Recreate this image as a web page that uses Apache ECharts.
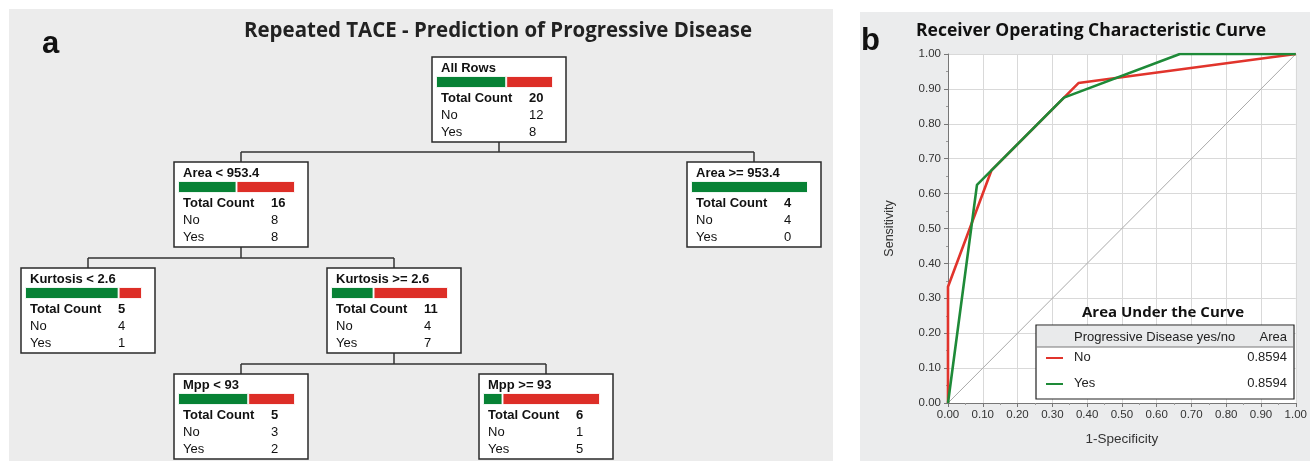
<!DOCTYPE html>
<html>
<head>
<meta charset="utf-8">
<script src="https://cdn.jsdelivr.net/npm/echarts@6/dist/echarts.min.js"></script>
<style>
  html, body { margin: 0; padding: 0; background: #ffffff; }
  #chart { width: 1310px; height: 461px; }
</style>
</head>
<body>
<div id="chart"></div>
<script>
// ---- Decision tree: split labels, class counts and parent links ----
const nodeLabels = ['All Rows', 'Area < 953.4', 'Area >= 953.4', 'Kurtosis < 2.6', 'Kurtosis >= 2.6', 'Mpp < 93', 'Mpp >= 93'];
const nodeNo = [12, 8, 4, 4, 4, 3, 1];
const nodeYes = [8, 8, 0, 1, 7, 2, 5];
const nodeParent = [-1, 0, 0, 1, 1, 4, 4];
const classNames = ['No', 'Yes'];

// ---- ROC curves (false positive rate vs. true positive rate) ----
const rocNoFpr = [0, 0, 0.125, 0.375, 1];
const rocNoTpr = [0, 0.3333, 0.6667, 0.9167, 1];
const rocYesFpr = [0, 0.0833, 0.3333, 0.6667, 1];
const rocYesTpr = [0, 0.625, 0.875, 1, 1];
const chanceFpr = [0, 1];
const chanceTpr = [0, 1];
const aucGroups = ['No', 'Yes'];
const aucValues = [0.8594, 0.8594];

// ---- Layout ----
const GREEN = '#078235';
const RED = '#dd2e27';
const ROC_RED = '#e1342c';
const ROC_GREEN = '#1e8a38';
const BOX_W = 134, BOX_H = 85;
const boxPos = [[432, 57], [174, 162], [687, 162], [21, 268], [327, 268], [174, 374], [479, 374]];
const SANS = '"Liberation Sans", Arial, sans-serif';
const TITLE_FONT = '"Open Sans", "Liberation Sans", sans-serif';

// horizontal squeeze that makes a heading span a given width (condensed look)
function squeezeTo(text, font, width) {
  const ctx = document.createElement('canvas').getContext('2d');
  ctx.font = font;
  const w = ctx.measureText(text).width;
  return w > 0 ? width / w : 1;
}

const chart = echarts.init(document.getElementById('chart'), null, { renderer: 'canvas' });

const graphics = [];
// panel backgrounds
graphics.push({ type: 'rect', z: -20, shape: { x: 9, y: 9, width: 824, height: 452 }, style: { fill: '#ececec' }, silent: true });
graphics.push({ type: 'rect', z: -20, shape: { x: 860, y: 12, width: 450, height: 449 }, style: { fill: '#ebeced' }, silent: true });
// panel letters and headings
graphics.push({ type: 'text', z: 5, style: { text: 'a', x: 42, y: 44, font: 'bold 31px ' + SANS, fill: '#111', textVerticalAlign: 'middle' } });
graphics.push({ type: 'text', z: 5, style: { text: 'b', x: 861, y: 41, font: 'bold 31px ' + SANS, fill: '#111', textVerticalAlign: 'middle' } });
const treeTitle = 'Repeated TACE - Prediction of Progressive Disease';
const treeTitleFont = 'bold 22px ' + TITLE_FONT;
graphics.push({
  type: 'text', z: 5, x: 498, y: 31, scaleX: squeezeTo(treeTitle, treeTitleFont, 508), scaleY: 1,
  style: { text: treeTitle, x: 0, y: 0, font: treeTitleFont, fill: '#222', textAlign: 'center', textVerticalAlign: 'middle' }
});
graphics.push({ type: 'text', z: 5, style: { text: 'Receiver Operating Characteristic Curve', x: 916, y: 31, font: 'bold 17.5px ' + TITLE_FONT, fill: '#111', textVerticalAlign: 'middle' } });

// tree connectors
const centerX = i => boxPos[i][0] + BOX_W / 2;
nodeLabels.forEach((_, p) => {
  const kids = nodeParent.map((q, k) => q === p ? k : -1).filter(k => k >= 0);
  if (!kids.length) return;
  const pBottom = boxPos[p][1] + BOX_H;
  const cTop = boxPos[kids[0]][1];
  const midY = Math.round((pBottom + cTop) / 2);
  const line = pts => ({ type: 'polyline', z: 1, shape: { points: pts }, style: { stroke: '#333', lineWidth: 1.5, fill: null }, silent: true });
  graphics.push(line([[centerX(p), pBottom], [centerX(p), midY]]));
  const xs = kids.map(centerX);
  graphics.push(line([[Math.min(...xs), midY], [Math.max(...xs), midY]]));
  kids.forEach(k => graphics.push(line([[centerX(k), midY], [centerX(k), cTop]])));
});

// node boxes and their count tables
nodeLabels.forEach((label, i) => {
  const [x, y] = boxPos[i];
  const total = nodeNo[i] + nodeYes[i];
  graphics.push({ type: 'rect', z: 1, shape: { x: x, y: y, width: BOX_W, height: BOX_H }, style: { fill: '#fff', stroke: '#2a2a2a', lineWidth: 1.5 }, silent: true });
  const t = (text, dx, dy, bold) => ({ type: 'text', z: 5, style: { text: String(text), x: x + dx, y: y + dy, font: (bold ? 'bold ' : '') + '13px ' + SANS, fill: '#111', textVerticalAlign: 'middle' } });
  graphics.push(t(label, 9, 11, true));
  graphics.push(t('Total Count', 9, 41, true));
  graphics.push(t(total, 97, 41, true));
  graphics.push(t(classNames[0], 9, 58, false));
  graphics.push(t(nodeNo[i], 97, 58, false));
  graphics.push(t(classNames[1], 9, 75, false));
  graphics.push(t(nodeYes[i], 97, 75, false));
});

// AUC table
const TB = { x: 1036, y: 325, w: 258, h: 74 };
graphics.push({ type: 'text', z: 5, style: { text: 'Area Under the Curve', x: TB.x + TB.w / 2 - 2, y: 313, font: 'bold 15px ' + TITLE_FONT, fill: '#111', textAlign: 'center', textVerticalAlign: 'middle' } });
graphics.push({ type: 'rect', z: 10, shape: { x: TB.x, y: TB.y, width: TB.w, height: TB.h }, style: { fill: '#fff', stroke: '#222', lineWidth: 1.2 } });
graphics.push({ type: 'rect', z: 11, shape: { x: TB.x + 1, y: TB.y + 1, width: TB.w - 2, height: 21 }, style: { fill: '#e9eaeb' } });
graphics.push({ type: 'line', z: 11, shape: { x1: TB.x, y1: TB.y + 22, x2: TB.x + TB.w, y2: TB.y + 22 }, style: { stroke: '#777', lineWidth: 1 } });
const tbText = (text, x, y, align) => ({ type: 'text', z: 12, style: { text: text, x: x, y: y, font: '13px ' + SANS, fill: '#222', textAlign: align, textVerticalAlign: 'middle' } });
graphics.push(tbText('Progressive Disease yes/no', TB.x + 38, TB.y + 12, 'left'));
graphics.push(tbText('Area', TB.x + TB.w - 7, TB.y + 12, 'right'));
const rowColors = [ROC_RED, ROC_GREEN];
aucGroups.forEach((g, i) => {
  const yy = TB.y + 32 + i * 26;
  graphics.push({ type: 'line', z: 12, shape: { x1: TB.x + 10, y1: yy + 1, x2: TB.x + 27, y2: yy + 1 }, style: { stroke: rowColors[i], lineWidth: 2 } });
  graphics.push(tbText(g, TB.x + 38, yy, 'left'));
  graphics.push(tbText(aucValues[i].toFixed(4), TB.x + TB.w - 7, yy, 'right'));
});

// ---- grids: ROC plot plus one tiny stacked bar per tree node ----
const grids = [{ left: 948, top: 54, width: 348, height: 349, show: true, backgroundColor: '#ffffff', borderWidth: 0, containLabel: false }];
const xAxes = [{
  gridIndex: 0, type: 'value', min: 0, max: 1, interval: 0.1,
  name: '1-Specificity', nameLocation: 'middle', nameGap: 29,
  nameTextStyle: { fontFamily: SANS, fontSize: 13.5, color: '#333' },
  axisLine: { lineStyle: { color: '#777', width: 1 } },
  axisTick: { show: true, length: 4, lineStyle: { color: '#777' } },
  minorTick: { show: true, splitNumber: 2, length: 2, lineStyle: { color: '#999' } },
  axisLabel: { fontFamily: SANS, fontSize: 11.5, color: '#333', margin: 6, formatter: v => v.toFixed(2) },
  splitLine: { show: true, lineStyle: { color: '#d9d9d9', width: 1 } }
}];
const yAxes = [{
  gridIndex: 0, type: 'value', min: 0, max: 1, interval: 0.1,
  name: 'Sensitivity', nameLocation: 'middle', nameGap: 52, nameRotate: 90,
  nameTextStyle: { fontFamily: SANS, fontSize: 12.5, color: '#333' },
  axisLine: { show: true, lineStyle: { color: '#777', width: 1 } },
  axisTick: { show: true, length: 4, lineStyle: { color: '#777' } },
  minorTick: { show: true, splitNumber: 2, length: 2, lineStyle: { color: '#999' } },
  axisLabel: { fontFamily: SANS, fontSize: 11.5, color: '#333', margin: 7, formatter: v => v.toFixed(2) },
  splitLine: { show: true, lineStyle: { color: '#d9d9d9', width: 1 } }
}];
const series = [
  { type: 'line', xAxisIndex: 0, yAxisIndex: 0, data: chanceFpr.map((v, i) => [v, chanceTpr[i]]), symbol: 'none', lineStyle: { color: '#a9a9a9', width: 1 }, z: 2, silent: true },
  { name: aucGroups[0], type: 'line', xAxisIndex: 0, yAxisIndex: 0, data: rocNoFpr.map((v, i) => [v, rocNoTpr[i]]), symbol: 'none', lineStyle: { color: ROC_RED, width: 2.6 }, z: 3 },
  { name: aucGroups[1], type: 'line', xAxisIndex: 0, yAxisIndex: 0, data: rocYesFpr.map((v, i) => [v, rocYesTpr[i]]), symbol: 'none', lineStyle: { color: ROC_GREEN, width: 2.6 }, z: 4 }
];

nodeLabels.forEach((label, i) => {
  const [x, y] = boxPos[i];
  const g = i + 1;
  grids.push({ left: x + 4, top: y + 19, width: 117, height: 12, show: false });
  xAxes.push({ gridIndex: g, type: 'value', min: 0, max: nodeNo[i] + nodeYes[i], show: false });
  yAxes.push({ gridIndex: g, type: 'category', data: [label], show: false });
  series.push({ type: 'bar', xAxisIndex: g, yAxisIndex: g, stack: 'n' + i, barWidth: '100%', data: [nodeNo[i]], itemStyle: { color: GREEN, borderColor: 'rgba(255,255,255,0.85)', borderWidth: 1 }, z: 6, silent: true });
  series.push({ type: 'bar', xAxisIndex: g, yAxisIndex: g, stack: 'n' + i, barWidth: '100%', data: [nodeYes[i]], itemStyle: { color: RED, borderColor: 'rgba(255,255,255,0.85)', borderWidth: 1 }, z: 6, silent: true });
});

chart.setOption({
  animation: false,
  backgroundColor: '#ffffff',
  grid: grids,
  xAxis: xAxes,
  yAxis: yAxes,
  series: series,
  graphic: { elements: graphics }
});
</script>
</body>
</html>
